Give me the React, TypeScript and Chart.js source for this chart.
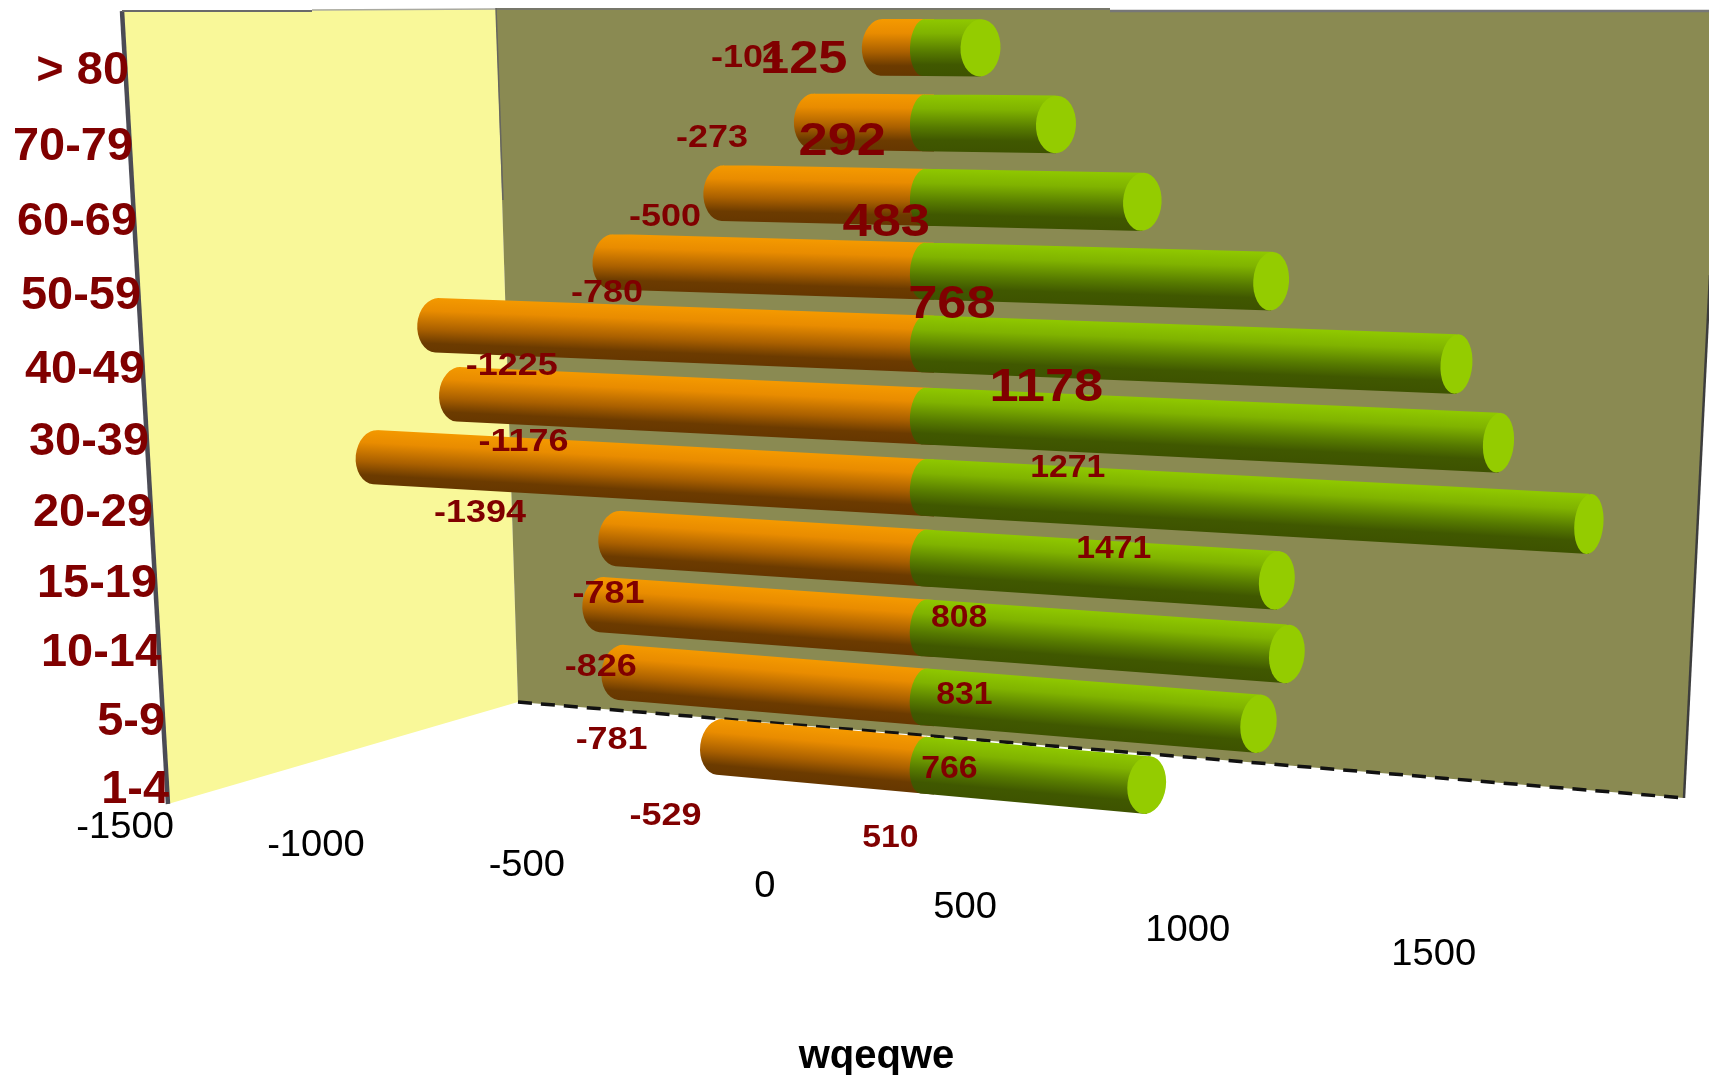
import React, { useEffect, useRef } from "react";
import { Chart, registerables } from "chart.js";

Chart.register(...registerables);

const categories = ["> 80", "70-79", "60-69", "50-59", "40-49", "30-39", "20-29", "15-19", "10-14", "5-9", "1-4"];
const negativeValues = [-104, -273, -500, -780, -1225, -1176, -1394, -781, -826, -781, -529];
const positiveValues = [125, 292, 483, 768, 1178, 1271, 1471, 808, 831, 766, 510];
const axisMin = -1500;
const axisMax = 1500;
const axisStep = 500;
const axisTitle = "wqeqwe";

const DARK_RED = "#800000";
const FONT = '"Liberation Sans", Arial, sans-serif';

// ---- perspective of the picture: flat chart-area coordinates -> screen ----
const X0 = 924;
const barX = (n: number, i: number) => (n >= 0 ? X0 + n * (i < 7 ? 678 : 655) : X0 + n * (608 - 3 * i));
const slopeOf = (i: number) => 0.004 + 0.0085 * i;
const centerY = (x: number, i: number) => 47.5 + 75.5 * i - 0.386 * i * i + slopeOf(i) * (x - 910);
const radiusAt = (x: number) => 28.5 + 0.0025 * (x - X0);
const capHalfWidth = (x: number) => Math.min(20, 21.6 - 0.0107 * (x - X0));

const labelX = (n: number, i: number) =>
  n >= 0 ? 775 + 345.5 * n - (i >= 7 ? 2 : 0) : 768.5 + 310.5 * n + (i >= 4 ? (i - 6) * 1.6 : 0);
const labelY = (x: number, i: number) => 59.5 + 81.2 * i - 0.44 * i * i + 0.0092 * i * (x - 772);

const floorR = (t: number) => 775.5 + (215.8 * t) / (1 - 0.02535 * t);
const floorY = (r: number) => 886.6 + 0.098 * (r - 775.5);

function scaledText(ctx: CanvasRenderingContext2D, text: string, x: number, y: number, sx: number) {
  ctx.save();
  ctx.translate(x, y);
  ctx.scale(sx, 1);
  ctx.fillText(text, 0, 0);
  ctx.restore();
}

function drawWalls(ctx: CanvasRenderingContext2D) {
  const poly = (pts: number[][], fill: string) => {
    ctx.beginPath();
    pts.forEach((p, k) => (k ? ctx.lineTo(p[0], p[1]) : ctx.moveTo(p[0], p[1])));
    ctx.closePath();
    ctx.fillStyle = fill;
    ctx.fill();
  };
  const line = (a: number[], b: number[], color: string, w: number, dash: number[] = []) => {
    ctx.save();
    ctx.strokeStyle = color;
    ctx.lineWidth = w;
    ctx.setLineDash(dash);
    ctx.beginPath();
    ctx.moveTo(a[0], a[1]);
    ctx.lineTo(b[0], b[1]);
    ctx.stroke();
    ctx.restore();
  };
  poly([[122, 11], [496, 9], [518, 702], [168, 804]], "#F9F899");
  poly([[496, 9], [1723, 11], [1684, 798], [518, 702]], "#8A8A52");
  line([122, 11], [168, 804], "#4b4b55", 4.5);
  line([122, 11], [312, 11], "#6a6a6a", 2);
  line([312, 10], [496, 9], "#a9a9a0", 1.5);
  line([496, 9], [1110, 9], "#77776a", 2);
  line([1110, 11], [1709, 11], "#777777", 2.5);
  line([496, 8], [503, 200], "#66665f", 1.5);
  line([1710, 275], [1684, 798], "#3d3d3d", 2.5);
  line([518, 702], [1684, 798], "#111111", 3.5, [14, 9]);
}

function drawCylinder(ctx: CanvasRenderingContext2D, i: number, nNeg: number, nPos: number) {
  const s = slopeOf(i);
  const rot = Math.atan(s) + 0.04;
  const xL = barX(nNeg, i);
  const xR = barX(nPos, i);
  const y0 = centerY(X0, i);
  const r0 = radiusAt(X0);
  const yL = centerY(xL, i);
  const yR = centerY(xR, i);
  const rL = radiusAt(xL);
  const rR = radiusAt(xR);

  const gradient = (stops: [number, string][]) => {
    const g = ctx.createLinearGradient(X0 + s * r0, y0 - r0, X0 - s * r0, y0 + r0);
    stops.forEach(([o, c]) => g.addColorStop(o, c));
    return g;
  };

  ctx.beginPath();
  ctx.moveTo(X0 + 10, centerY(X0 + 10, i) - r0);
  ctx.lineTo(xL, yL - rL);
  ctx.ellipse(xL, yL, capHalfWidth(xL), rL, rot, -Math.PI / 2, Math.PI / 2, true);
  ctx.lineTo(X0 + 10, centerY(X0 + 10, i) + r0);
  ctx.closePath();
  ctx.fillStyle = gradient([
    [0, "#F59A00"],
    [0.25, "#E98C00"],
    [0.58, "#AA6000"],
    [0.82, "#6C3B00"],
    [1, "#663700"],
  ]);
  ctx.fill();

  ctx.beginPath();
  ctx.moveTo(X0, y0 - r0);
  ctx.lineTo(xR, yR - rR);
  ctx.lineTo(xR, yR + rR);
  ctx.lineTo(X0, y0 + r0);
  ctx.ellipse(X0, y0, 14, r0, rot, Math.PI / 2, (3 * Math.PI) / 2, false);
  ctx.closePath();
  ctx.fillStyle = gradient([
    [0, "#8FC800"],
    [0.25, "#80B300"],
    [0.58, "#567A00"],
    [0.8, "#405800"],
    [1, "#3E5300"],
  ]);
  ctx.fill();

  ctx.beginPath();
  ctx.ellipse(xR, yR, capHalfWidth(xR), rR, rot, 0, Math.PI * 2);
  ctx.fillStyle = "#94CC00";
  ctx.fill();
}

const perspectivePlugin = {
  id: "perspective",
  beforeDatasetsDraw(chart: any) {
    drawWalls(chart.ctx);
  },
  afterDatasetsDraw(chart: any) {
    const ctx: CanvasRenderingContext2D = chart.ctx;
    const xs = chart.scales.x;
    const ys = chart.scales.y;
    const norm = (px: number) => ((px - xs.left) / xs.width) * 2 - 1;
    const count = categories.length;
    const rowOf = (py: number) => Math.round(((py - ys.top) / ys.height) * count - 0.5);
    const negMeta = chart.getDatasetMeta(0).data;
    const posMeta = chart.getDatasetMeta(1).data;

    ctx.save();
    negMeta.forEach((el: any, k: number) => {
      drawCylinder(ctx, rowOf(el.y), norm(el.x), norm(posMeta[k].x));
    });

    ctx.fillStyle = DARK_RED;
    ctx.textBaseline = "middle";
    ctx.textAlign = "center";
    ctx.font = `bold 31px ${FONT}`;
    negMeta.forEach((el: any, k: number) => {
      const i = rowOf(el.y);
      const x = labelX(norm(el.x), i);
      scaledText(ctx, String(negativeValues[k]), x, labelY(x, i) - 1, 1.16);
    });
    posMeta.forEach((el: any, k: number) => {
      const i = rowOf(el.y);
      const x = labelX(norm(el.x), i);
      ctx.font = i < 5 ? `bold 46px ${FONT}` : `bold 31px ${FONT}`;
      scaledText(ctx, String(positiveValues[k]), x, labelY(x, i) + (i < 5 ? 1 : 0), i < 5 ? 1.14 : 1.09);
    });

    // category labels, standing on the left edge of the side wall
    ctx.textAlign = "right";
    ctx.font = `bold 46px ${FONT}`;
    ys.getLabels().forEach((label: string, k: number) => {
      const i = rowOf(ys.getPixelForValue(k));
      scaledText(ctx, label, 129 + 4 * i, 71.5 + 76.46 * i - 0.46 * i * i, 1.02);
    });

    // value-axis labels, along the front edge of the floor
    ctx.fillStyle = "#000000";
    ctx.font = `36px ${FONT}`;
    xs.ticks.forEach((tick: any) => {
      const r = floorR(norm(xs.getPixelForValue(tick.value)) * 3);
      scaledText(ctx, String(tick.value), r, floorY(r), 1.06);
    });
    ctx.restore();
  },
};

export default function App() {
  const ref = useRef<HTMLCanvasElement>(null);
  useEffect(() => {
    const chart = new Chart(ref.current as HTMLCanvasElement, {
      type: "bar",
      data: {
        labels: categories,
        datasets: [
          { label: "Negative", data: negativeValues, backgroundColor: "transparent", borderWidth: 0 },
          { label: "Positive", data: positiveValues, backgroundColor: "transparent", borderWidth: 0 },
        ],
      },
      options: {
        indexAxis: "y",
        animation: false,
        responsive: false,
        devicePixelRatio: 1,
        layout: { padding: { left: 117, right: 81, top: 10, bottom: -6 } },
        plugins: { legend: { display: false }, tooltip: { enabled: false } },
        events: [],
        scales: {
          x: {
            stacked: false,
            min: axisMin,
            max: axisMax,
            ticks: { display: false, stepSize: axisStep, callback: (v: any) => String(v) },
            grid: { display: false },
            border: { display: false },
            title: {
              display: true,
              text: axisTitle,
              color: "#000000",
              font: { family: FONT, size: 40, weight: "bold" },
              padding: { top: 0, bottom: 0 },
            },
          },
          y: {
            ticks: { display: false },
            grid: { display: false },
            border: { display: false },
          },
        },
      },
      plugins: [perspectivePlugin],
    } as any);
    return () => chart.destroy();
  }, []);
  return (
    <div style={{ position: "absolute", left: 0, top: 0, width: 1709, height: 1075, background: "#ffffff" }}>
      <canvas ref={ref} width={1709} height={1075} style={{ display: "block" }} />
    </div>
  );
}
